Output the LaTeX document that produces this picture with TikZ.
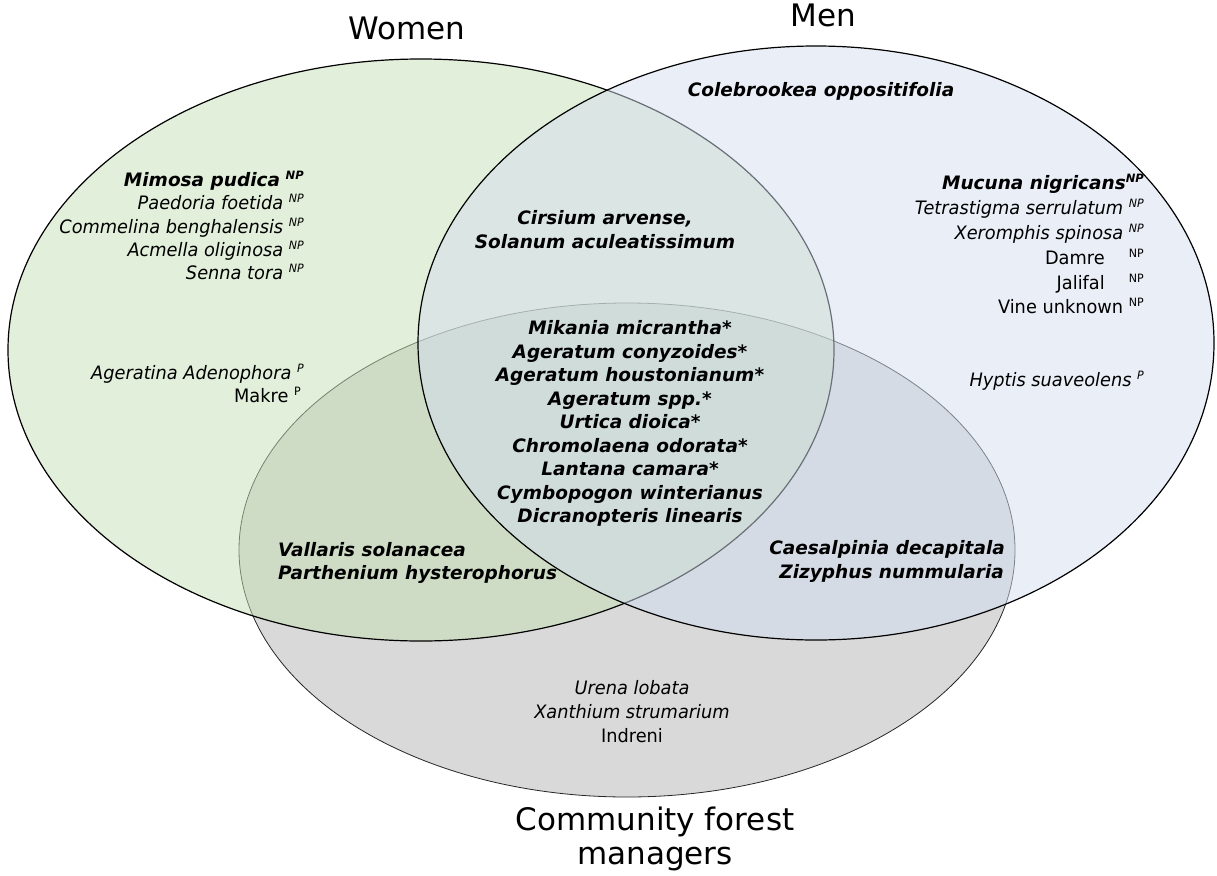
\documentclass[tikz,border=0pt]{standalone}
\usepackage{fontspec}
\setmainfont{DejaVu Sans}[FakeStretch=0.96]
\newfontfamily\bifam{DejaVu Sans}
\newfontfamily\ttlfam{DejaVu Sans}
\definecolor{wfill}{RGB}{197,223,181}
\definecolor{mfill}{RGB}{211,221,239}
\definecolor{cfill}{RGB}{217,217,217}
\newcommand\supx[1]{\raisebox{0.65ex}{\fontsize{11.5}{11.5}\selectfont #1}}
\newcommand\bi[1]{{\bifam\bfseries\itshape #1}}
\tikzset{
  setw/.style={draw=black, line width=1.2pt, fill=wfill, fill opacity=0.5},
  setm/.style={draw=black, line width=1.2pt, fill=mfill, fill opacity=0.5},
  setc/.style={draw=black!85, line width=0.8pt, fill=cfill},
  txt/.style={inner sep=0pt, font=\fontsize{18.5}{23.5}\selectfont, text=black},
  ttl/.style={inner sep=0pt, font=\ttlfam\fontsize{31}{36}\selectfont, text=black},
}
\begin{document}
\begin{tikzpicture}[x=1pt,y=-1pt]
\useasboundingbox (0,0) rectangle (1217,875);
% sets
\path[setc] (627,550) ellipse [x radius=388, y radius=247];
\path[setw] (421,350) ellipse [x radius=413, y radius=291];
\path[setm] (816,343) ellipse [x radius=398, y radius=297];
% titles
\node[ttl, anchor=base] (tw) at (407,40) {Women};
\node[ttl, anchor=base] (tm) at (823,27) {Men};
\node[ttl, anchor=base] (tc1) at (655,830) {Community forest};
\node[ttl, anchor=base] (tc2) at (655,864) {managers};
% men only top
\node[txt, anchor=base] (col) at (821,96) {\bi{Colebrookea oppositifolia}};
% women only
\node[txt, anchor=base east] (w1) at (304,186) {\bi{Mimosa pudica} \supx{\bi{NP}}};
\node[txt, anchor=base east] (w2) at (304,209) {\textit{Paedoria foetida} \supx{\textit{NP}}};
\node[txt, anchor=base east] (w3) at (304,233) {\textit{Commelina benghalensis} \supx{\textit{NP}}};
\node[txt, anchor=base east] (w4) at (304,256) {\textit{Acmella oliginosa} \supx{\textit{NP}}};
\node[txt, anchor=base east] (w5) at (304,279) {\textit{Senna tora} \supx{\textit{NP}}};
\node[txt, anchor=base east] (w6) at (304,379) {\textit{Ageratina Adenophora} \supx{\textit{P}}};
\node[txt, anchor=base east] (w7) at (301,402) {Makre \supx{P}};
% men only
\node[txt, anchor=base east] (m1) at (1144,189) {\bi{Mucuna nigricans}\supx{\bi{NP}}};
\node[txt, anchor=base east] (m2) at (1144,214) {\textit{Tetrastigma serrulatum} \supx{\textit{NP}}};
\node[txt, anchor=base east] (m3) at (1144,239) {\textit{Xeromphis spinosa} \supx{\textit{NP}}};
\node[txt, anchor=base east] (m4) at (1144,264) {Damre \quad\supx{NP}};
\node[txt, anchor=base east] (m5) at (1144,289) {Jalifal \quad\supx{NP}};
\node[txt, anchor=base east] (m6) at (1144,313) {Vine unknown \supx{NP}};
\node[txt, anchor=base east] (m7) at (1144,386) {\textit{Hyptis suaveolens} \supx{\textit{P}}};
% women & men
\node[txt, anchor=base] (wm1) at (605,224) {\bi{Cirsium arvense,}};
\node[txt, anchor=base] (wm2) at (605,248) {\bi{Solanum aculeatissimum}};
% all three
\node[txt, anchor=base] (a1) at (630,334) {\bi{Mikania micrantha*}};
\node[txt, anchor=base] (a2) at (630,358) {\bi{Ageratum conyzoides*}};
\node[txt, anchor=base] (a3) at (630,381) {\bi{Ageratum houstonianum*}};
\node[txt, anchor=base] (a4) at (630,405) {\bi{Ageratum spp.*}};
\node[txt, anchor=base] (a5) at (630,428) {\bi{Urtica dioica*}};
\node[txt, anchor=base] (a6) at (630,452) {\bi{Chromolaena odorata*}};
\node[txt, anchor=base] (a7) at (630,475) {\bi{Lantana camara*}};
\node[txt, anchor=base] (a8) at (630,499) {\bi{Cymbopogon winterianus}};
\node[txt, anchor=base] (a9) at (630,522) {\bi{Dicranopteris linearis}};
% women & community
\node[txt, anchor=base west] (wc1) at (278,556) {\bi{Vallaris solanacea}};
\node[txt, anchor=base west] (wc2) at (278,579) {\bi{Parthenium hysterophorus}};
% men & community
\node[txt, anchor=base east] (mc1) at (1005,554) {\bi{Caesalpinia decapitala}};
\node[txt, anchor=base east] (mc2) at (1004,578) {\bi{Zizyphus nummularia}};
% community only
\node[txt, anchor=base] (c1) at (632,694) {\textit{Urena lobata}};
\node[txt, anchor=base] (c2) at (632,718) {\textit{Xanthium strumarium}};
\node[txt, anchor=base] (c3) at (632,742) {Indreni};
\end{tikzpicture}
\end{document}
